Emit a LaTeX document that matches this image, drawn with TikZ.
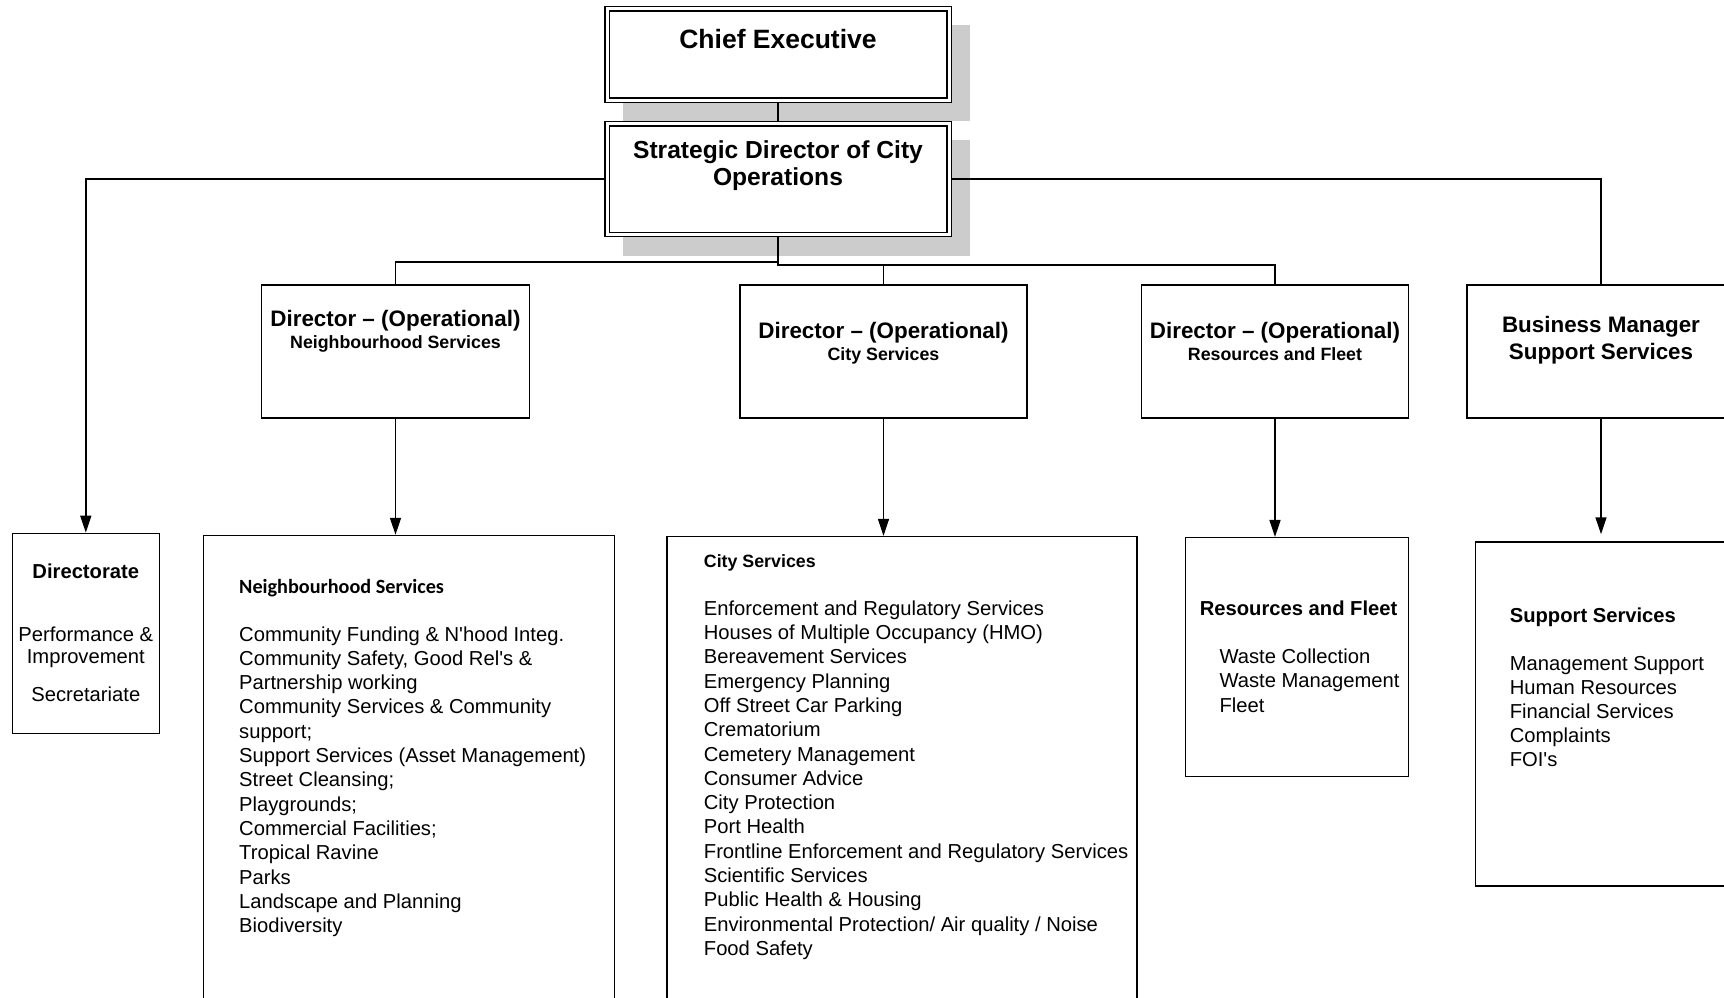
\documentclass[tikz,border=0pt]{standalone}
\usepackage{fontspec}
\newfontfamily\arial{Liberation Sans}
\newfontfamily\calib{Carlito}
\usetikzlibrary{arrows.meta}
\definecolor{shadowc}{gray}{0.8}
\pgfdeclarelayer{bg}
\pgfdeclarelayer{mid}
\pgfsetlayers{bg,mid,main}
\newcommand{\setfs}[2]{\fontsize{#1}{#2}\selectfont}
\begin{document}
\begin{tikzpicture}[x=1pt,y=-1pt,
  box/.style={draw, line width=1.5pt, fill=white, rectangle, inner sep=0pt},
  dbox/.style={draw, line width=1.3pt, double=white, double distance=3pt, fill=white, rectangle, inner sep=0pt, minimum width=342pt},
  conn/.style={line width=1.5pt},
  arr/.style={line width=1.5pt, -{Triangle[width=11pt,length=17pt]}},
  txt/.style={inner sep=0pt, anchor=base},
  ltxt/.style={inner sep=0pt, anchor=base west}
]
\useasboundingbox (0,0) rectangle (1724,997);

% top boxes
\node[dbox, minimum height=91.3pt] (ce) at (778,54.5) {};
\node[dbox, minimum height=110.7pt] (sd) at (778,179.2) {};

% director boxes
\node[box, minimum width=268pt, minimum height=133pt] (nsd) at (395.5,351.5) {};
\node[box, minimum width=287pt, minimum height=133pt] (csd) at (883.5,351.5) {};
\node[box, minimum width=267pt, minimum height=133pt] (rfd) at (1275,351.5) {};
\node[box, minimum width=268pt, minimum height=133pt] (bmd) at (1601,351.5) {};

% lower boxes
\node[box, minimum width=147pt, minimum height=200pt] (dir) at (85.8,633.4) {};
\node[box, minimum width=411pt, minimum height=480pt] (nsl) at (409,775.5) {};
\node[box, minimum width=470pt, minimum height=480pt] (csl) at (902.2,776.6) {};
\node[box, minimum width=223pt, minimum height=238.6pt] (rfl) at (1296.9,657) {};
\node[box, minimum width=251.5pt, minimum height=344.2pt] (ssl) at (1601.3,714.1) {};

\begin{pgfonlayer}{bg}
  \fill[white] (0,0) rectangle (1724,997);
  \fill[shadowc] ([shift={(16.4,16.4)}]ce.north west) rectangle ([shift={(20.6,20.6)}]ce.south east);
  \fill[shadowc] ([shift={(16.4,16.4)}]sd.north west) rectangle ([shift={(20.6,20.6)}]sd.south east);
\end{pgfonlayer}

\begin{pgfonlayer}{mid}
  \coordinate (busl) at (778,262);
  \coordinate (busr) at (778,265);
  \draw[conn] (ce.south) -- (sd.north);
  \draw[arr] (sd.west) -| (dir.north);
  \draw[conn] (sd.east) -| (bmd.north);
  \draw[conn] (sd.south) -- (busr) -| (csd.north);
  \draw[conn] (busr) -| (rfd.north);
  \draw[conn] (busl) -| (nsd.north);
  \draw[arr] (nsd.south) -- (nsd.south |- nsl.north);
  \draw[arr] (csd.south) -- (csd.south |- csl.north);
  \draw[arr] (rfd.south) -- (rfd.south |- rfl.north);
  \draw[arr, shorten >=7pt] (bmd.south) -- (bmd.south |- ssl.north);
\end{pgfonlayer}

% texts
\node[txt, font=\arial\bfseries\setfs{26.5}{30}] (cet) at (778,48) {Chief Executive};
\node[txt, font=\arial\bfseries\setfs{24.6}{27}] (sdt) at (778,158)
  {\begin{tabular}[t]{@{}c@{}}Strategic Director of City\\Operations\end{tabular}};

\node[txt, font=\arial\bfseries\setfs{22.4}{22}] (nsdt) at (395.5,326.5)
  {\begin{tabular}[t]{@{}c@{}}Director – (Operational)\\\setfs{17.8}{22}Neighbourhood Services\end{tabular}};
\node[txt, font=\arial\bfseries\setfs{22.4}{22}] (csdt) at (883.5,338)
  {\begin{tabular}[t]{@{}c@{}}Director – (Operational)\\\setfs{17.8}{22}City Services\end{tabular}};
\node[txt, font=\arial\bfseries\setfs{22.4}{22}] (rfdt) at (1275,338)
  {\begin{tabular}[t]{@{}c@{}}Director – (Operational)\\\setfs{17.8}{22}Resources and Fleet\end{tabular}};
\node[txt, font=\arial\bfseries\setfs{22.4}{26.5}] (bmdt) at (1601,332.5)
  {\begin{tabular}[t]{@{}c@{}}Business Manager\\Support Services\end{tabular}};

\node[txt, font=\arial\setfs{20.2}{22}] (dirt) at (85.8,578)
  {\begin{tabular}[t]{@{}c@{}}\bfseries Directorate\\[41pt]Performance \&\\Improvement\\[16pt]Secretariate\end{tabular}};

\node[ltxt, font=\arial\setfs{20.2}{24.3}] (nslt) at (239,593)
  {\begin{tabular}[t]{@{}l@{}}{\calib\bfseries Neighbourhood Services}\\[23.7pt]
  Community Funding \& N'hood Integ.\\
  Community Safety, Good Rel's \&\\
  Partnership working\\
  Community Services \& Community\\
  support;\\
  Support Services (Asset Management)\\
  Street Cleansing;\\
  Playgrounds;\\
  Commercial Facilities;\\
  Tropical Ravine\\
  Parks\\
  Landscape and Planning\\
  Biodiversity\end{tabular}};

\node[ltxt, font=\arial\setfs{20.2}{24.3}] (cslt) at (703.7,567)
  {\begin{tabular}[t]{@{}l@{}}{\bfseries\setfs{17.8}{24.3}City Services}\\[23.9pt]
  Enforcement and Regulatory Services\\
  Houses of Multiple Occupancy (HMO)\\
  Bereavement Services\\
  Emergency Planning\\
  Off Street Car Parking\\
  Crematorium\\
  Cemetery Management\\
  Consumer Advice\\
  City Protection\\
  Port Health\\
  Frontline Enforcement and Regulatory Services\\
  Scientific Services\\
  Public Health \& Housing\\
  Environmental Protection/ Air quality / Noise\\
  Food Safety\end{tabular}};

\node[ltxt, font=\arial\setfs{20.2}{24.2}] (rflt) at (1199.6,615.2)
  {\begin{tabular}[t]{@{}l@{}}\bfseries Resources and Fleet\\[24.2pt]
  \hspace*{19.7pt}Waste Collection\\
  \hspace*{19.7pt}Waste Management\\
  \hspace*{19.7pt}Fleet\end{tabular}};

\node[ltxt, font=\arial\setfs{20.2}{24.2}] (sslt) at (1509.6,622.5)
  {\begin{tabular}[t]{@{}l@{}}\bfseries Support Services\\[23.3pt]
  Management Support\\
  Human Resources\\
  Financial Services\\
  Complaints\\
  FOI's\end{tabular}};
\end{tikzpicture}
\end{document}
